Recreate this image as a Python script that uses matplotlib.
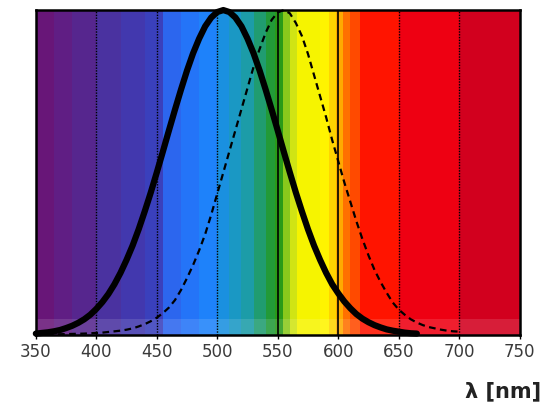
import numpy as np
import matplotlib
matplotlib.use("Agg")
import matplotlib.pyplot as plt

# spectrum background bands (edges in nm, one colour per band)
band_edges = [350, 365, 380, 400, 420, 440, 455, 470, 485, 500, 510, 520, 530, 540,
              548, 554, 560, 566, 585, 592, 598, 604, 610, 618, 650, 700, 750]
band_colors = ["#681678", "#601e84", "#56268e", "#4a32a0", "#4238ae", "#3a40bc",
               "#2c66ee", "#2474f8", "#1e82fa", "#1a90e0", "#1a98c4", "#1c9ca8",
               "#209c70", "#229a38", "#2a9a18", "#8ac81c", "#d0e414", "#f6f400",
               "#fff400", "#ffd400", "#ffaa00", "#ff7000", "#ff4a00", "#ff1400",
               "#ee0012", "#d2001e"]

# scotopic sensitivity (thick solid)
wl_scot = [350, 355, 360, 365, 370, 375, 380, 385, 390, 395, 400, 405, 410, 415,
           420, 425, 430, 435, 440, 445, 450, 455, 460, 465, 470, 475, 480, 485,
           490, 495, 500, 505, 510, 515, 520, 525, 530, 535, 540, 545, 550, 555,
           560, 565, 570, 575, 580, 585, 590, 595, 600, 605, 610, 615, 620, 625,
           630, 635, 640, 645, 650, 655, 660, 665]
v_scot = [0.004, 0.006, 0.008, 0.011, 0.015, 0.021, 0.028, 0.037, 0.048, 0.062,
          0.08, 0.101, 0.126, 0.156, 0.191, 0.231, 0.275, 0.325, 0.38, 0.438, 0.5,
          0.564, 0.629, 0.693, 0.755, 0.814, 0.867, 0.912, 0.95, 0.977, 0.994, 1.0,
          0.994, 0.977, 0.95, 0.912, 0.867, 0.814, 0.755, 0.693, 0.629, 0.564, 0.5,
          0.438, 0.38, 0.325, 0.275, 0.231, 0.191, 0.156, 0.128, 0.103, 0.082,
          0.064, 0.05, 0.039, 0.03, 0.023, 0.017, 0.013, 0.01, 0.007, 0.005, 0.004]

# photopic sensitivity (dashed)
wl_phot = [350, 360, 370, 380, 390, 400, 405, 410, 415, 420, 425, 430, 435, 440,
           445, 450, 455, 460, 465, 470, 475, 480, 485, 490, 495, 500, 505, 510,
           515, 520, 525, 530, 535, 540, 545, 550, 555, 560, 565, 570, 575, 580,
           585, 590, 595, 600, 605, 610, 615, 620, 625, 630, 635, 640, 645, 650,
           655, 660, 665, 670, 675, 680, 685, 690, 695, 700]
v_phot = [0.0, 0.001, 0.002, 0.003, 0.004, 0.006, 0.007, 0.009, 0.011, 0.013,
          0.016, 0.02, 0.026, 0.033, 0.042, 0.053, 0.067, 0.084, 0.107, 0.138,
          0.175, 0.215, 0.26, 0.31, 0.37, 0.435, 0.5, 0.565, 0.63, 0.695, 0.76,
          0.825, 0.88, 0.93, 0.97, 0.993, 1.0, 0.99, 0.96, 0.92, 0.865, 0.8, 0.735,
          0.67, 0.6, 0.535, 0.47, 0.41, 0.35, 0.295, 0.245, 0.2, 0.163, 0.13, 0.1,
          0.078, 0.062, 0.048, 0.038, 0.03, 0.024, 0.02, 0.016, 0.013, 0.011, 0.01]

grid_solid = [550, 600]
grid_dotted = [400, 450, 500, 650, 700]
xticks = [350, 400, 450, 500, 550, 600, 650, 700, 750]

fig = plt.figure(figsize=(5.43, 4.03), dpi=100)
ax = fig.add_axes([0.066, 0.169, 0.891, 0.806])

for i, c in enumerate(band_colors):
    ax.axvspan(band_edges[i], band_edges[i + 1], color=c, lw=0, zorder=0)
# slightly lighter strip along the bottom
ax.axhspan(0, 0.05, color="white", alpha=0.12, lw=0, zorder=1)

for x in grid_dotted:
    ax.axvline(x, color="black", lw=1, ls=(0, (1, 1)), zorder=2)
for x in grid_solid:
    ax.axvline(x, color="black", lw=1.2, zorder=2)

ax.plot(wl_phot, v_phot, color="black", lw=1.6, ls=(0, (3, 2)), zorder=3, clip_on=False)
ax.plot(wl_scot, v_scot, color="black", lw=4.5, zorder=4, clip_on=False,
        solid_capstyle="round", solid_joinstyle="round")

ax.set_xlim(350, 750)
ax.set_ylim(0, 1.0)
ax.set_xticks(xticks)
ax.set_yticks([])
ax.tick_params(axis="x", direction="out", length=3, width=1, labelsize=12,
               labelcolor="#3a3a3a", pad=3)
for s in ax.spines.values():
    s.set_linewidth(1.8)
    s.set_color("black")

fig.text(0.997, 0.004, "λ [nm]", ha="right", va="bottom", fontsize=15,
         fontweight="bold", color="#222222")

fig.savefig("out.png", dpi=100)
